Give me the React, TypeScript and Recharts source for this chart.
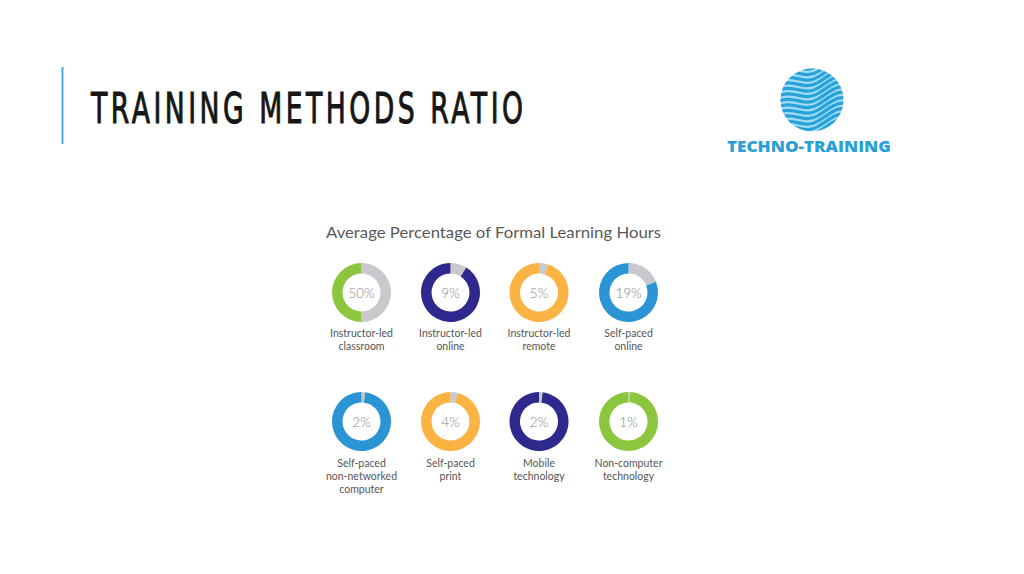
import React from "react";
import { PieChart, Pie, Cell } from "recharts";

const categoryLines: string[][] = [
  ["Instructor-led", "classroom"],
  ["Instructor-led", "online"],
  ["Instructor-led", "remote"],
  ["Self-paced", "online"],
  ["Self-paced", "non-networked", "computer"],
  ["Self-paced", "print"],
  ["Mobile", "technology"],
  ["Non-computer", "technology"],
];
const percentages = [50, 9, 5, 19, 2, 4, 2, 1];

const GREEN = "#8cc63f";
const NAVY = "#2e2a8d";
const ORANGE = "#fbb444";
const BLUE = "#2b94d4";
const GREY = "#c9c9cd";
const ringColors = [GREEN, NAVY, ORANGE, BLUE, BLUE, ORANGE, NAVY, GREEN];

const W = 1024;
const H = 574;
const colX = [361.5, 450.5, 539, 628.5];
const rowY = [292.5, 421.5];
const labelStartY = [337, 467];
const FONT = "Lato, 'Open Sans', sans-serif";

function Logo() {
  const cx = 812;
  const cy = 100;
  const r = 31.5;
  const waves: string[] = [];
  for (let i = -6; i <= 13; i++) {
    const y0 = cy - r - 10 + i * 5.5;
    waves.push(
      `M ${cx - r - 10} ${y0 + 8} C ${cx - 18} ${y0 - 6}, ${cx - 10} ${y0 + 12}, ${cx + 6} ${y0 + 2} S ${cx + 26} ${y0 - 14}, ${cx + r + 10} ${y0 - 8}`
    );
  }
  return (
    <g>
      <defs>
        <clipPath id="logoClip">
          <circle cx={cx} cy={cy} r={r} />
        </clipPath>
      </defs>
      <circle cx={cx} cy={cy} r={r} fill="#a4ddf3" />
      <g clipPath="url(#logoClip)">
        {waves.map((d, i) => (
          <path key={i} d={d} fill="none" stroke="#27a2da" strokeWidth={3.2} />
        ))}
      </g>
      <text
        x={727}
        y={152}
        fontFamily="'Open Sans', sans-serif"
        fontWeight={800}
        fontSize={16}
        fill="#2a9fd6"
        textLength={164}
        lengthAdjust="spacingAndGlyphs"
      >
        TECHNO-TRAINING
      </text>
    </g>
  );
}

const TITLE_SCALE = 0.62;

export default function App() {
  return (
    <div style={{ position: "absolute", left: 0, top: 0, width: W, height: H, background: "#ffffff" }}>
      <PieChart width={W} height={H} margin={{ top: 0, right: 0, bottom: 0, left: 0 }}>
        {percentages.map((p, i) => {
          const data = [
            { name: "share", value: p },
            { name: "rest", value: 100 - p },
          ];
          return (
            <Pie
              key={i}
              data={data}
              dataKey="value"
              cx={colX[i % 4]}
              cy={rowY[Math.floor(i / 4)]}
              innerRadius={19}
              outerRadius={29.5}
              startAngle={90}
              endAngle={-270}
              stroke="none"
              isAnimationActive={false}
            >
              <Cell fill={GREY} />
              <Cell fill={ringColors[i]} />
            </Pie>
          );
        })}
      </PieChart>
      <svg
        width={W}
        height={H}
        style={{ position: "absolute", left: 0, top: 0, pointerEvents: "none" }}
      >
        <line x1={62.5} y1={67} x2={62.5} y2={144} stroke="#4aa8d8" strokeWidth={2} />
        <g transform={`scale(${TITLE_SCALE},1)`}>
          <text
            x={91 / TITLE_SCALE}
            y={123}
            fontFamily="'DejaVu Sans', sans-serif"
            fontSize={43}
            fill="#161616"
            stroke="#161616"
            strokeWidth={1.1}
            textLength={432 / TITLE_SCALE}
            lengthAdjust="spacing"
          >
            TRAINING METHODS RATIO
          </text>
        </g>
        <Logo />
        <text
          x={326}
          y={238}
          fontFamily={FONT}
          fontSize={16}
          fill="#5a5a5c"
          textLength={335}
          lengthAdjust="spacingAndGlyphs"
        >
          Average Percentage of Formal Learning Hours
        </text>
        {percentages.map((p, i) => (
          <text
            key={`p${i}`}
            x={colX[i % 4]}
            y={rowY[Math.floor(i / 4)] + 5}
            textAnchor="middle"
            fontFamily={FONT}
            fontWeight={300}
            fontSize={13.5}
            fill="#878787"
          >
            {`${p}%`}
          </text>
        ))}
        {categoryLines.map((lines, i) => (
          <text
            key={i}
            textAnchor="middle"
            fontFamily={FONT}
            fontSize={10.5}
            fill="#555557"
          >
            {lines.map((ln, j) => (
              <tspan key={j} x={colX[i % 4]} y={labelStartY[Math.floor(i / 4)] + j * 13}>
                {ln}
              </tspan>
            ))}
          </text>
        ))}
      </svg>
    </div>
  );
}
